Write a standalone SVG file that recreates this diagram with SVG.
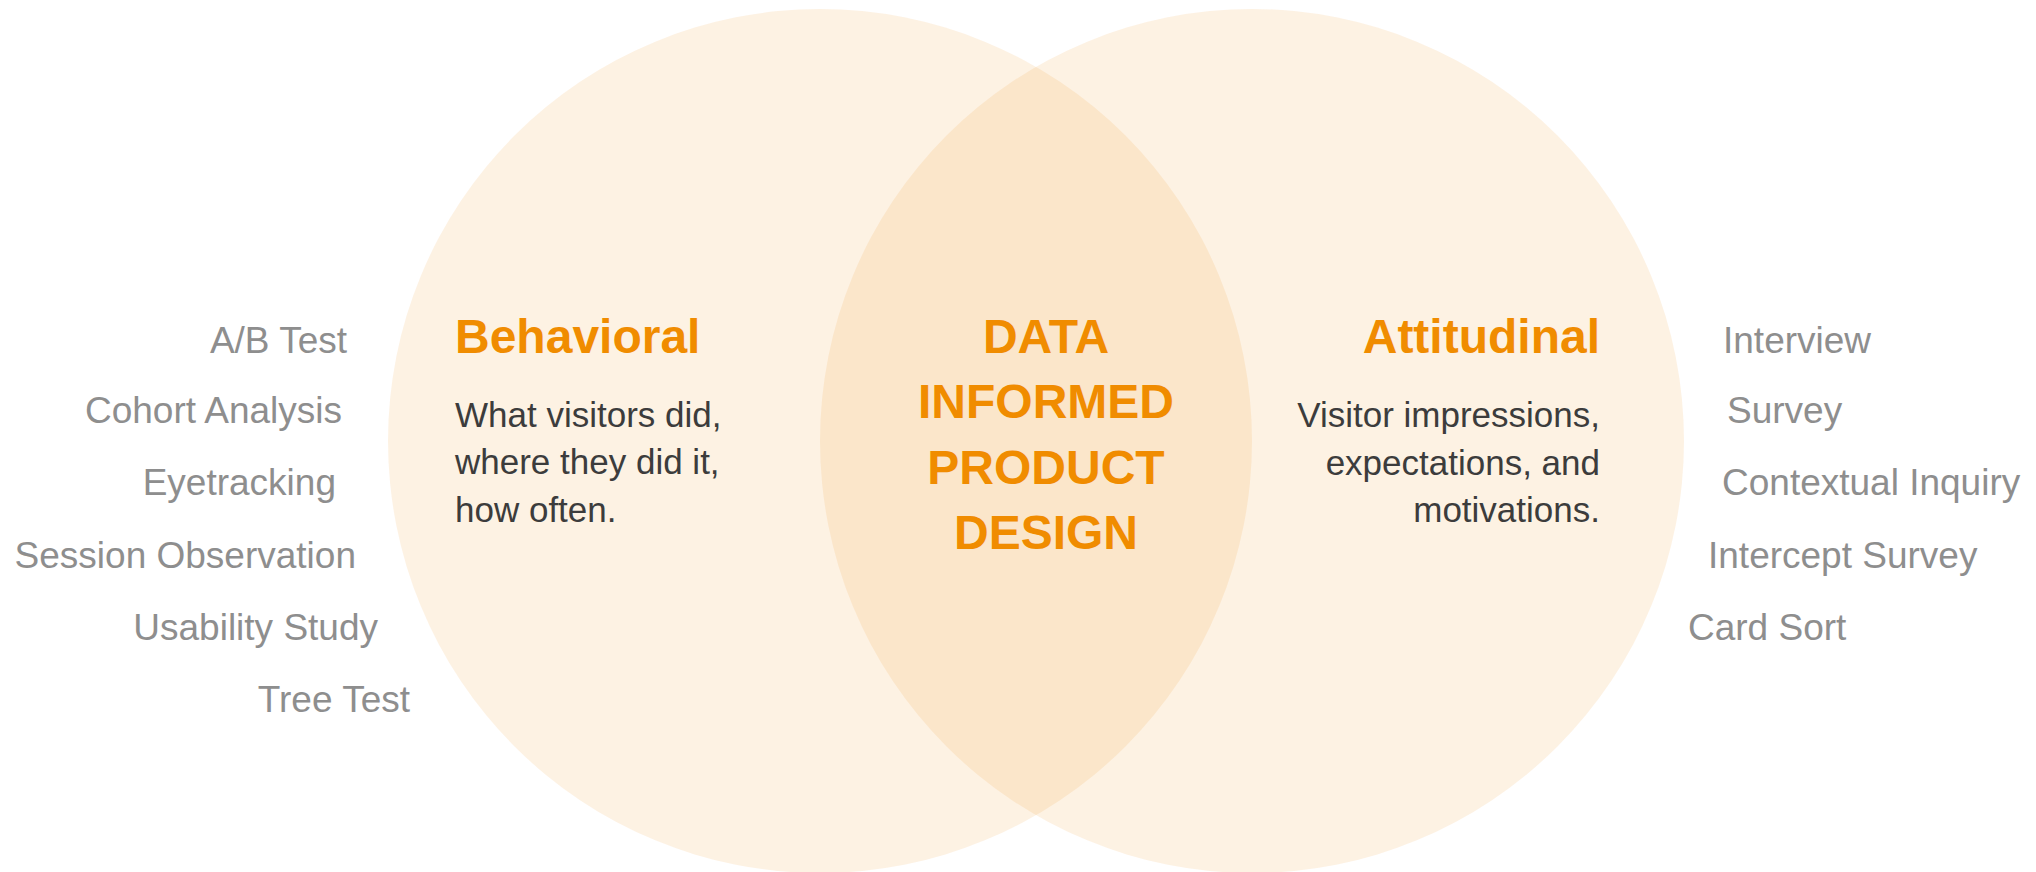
<svg xmlns="http://www.w3.org/2000/svg" width="2036" height="872" viewBox="0 0 2036 872">
<style>
.circ{fill:#F08C00;fill-opacity:0.11}
.item{font-family:"Liberation Sans",Arial,sans-serif;font-size:37px;fill:#8E8E8E}
.head{font-family:"Liberation Sans",Arial,sans-serif;font-size:48px;font-weight:bold;fill:#F08C00}
.body{font-family:"Liberation Sans",Arial,sans-serif;font-size:35px;fill:#3C3C3C}
</style>
<rect width="2036" height="872" fill="#FFFFFF"/>
<g id="behavioral-circle">
<circle class="circ" cx="820" cy="441" r="432"/>
</g>
<g id="attitudinal-circle">
<circle class="circ" cx="1252" cy="441" r="432"/>
</g>
<g id="connectors"></g>
<g id="behavioral-label">
<text class="head" x="455" y="353">Behavioral</text>
<text class="body" x="455" y="427">What visitors did,</text>
<text class="body" x="455" y="474">where they did it,</text>
<text class="body" x="455" y="522">how often.</text>
</g>
<g id="center-label">
<text class="head" text-anchor="middle" x="1046" y="353">DATA</text>
<text class="head" text-anchor="middle" x="1046" y="418">INFORMED</text>
<text class="head" text-anchor="middle" x="1046" y="484">PRODUCT</text>
<text class="head" text-anchor="middle" x="1046" y="549">DESIGN</text>
</g>
<g id="attitudinal-label">
<text class="head" text-anchor="end" x="1600" y="353">Attitudinal</text>
<text class="body" text-anchor="end" x="1600" y="427">Visitor impressions,</text>
<text class="body" text-anchor="end" x="1600" y="475">expectations, and</text>
<text class="body" text-anchor="end" x="1600" y="522">motivations.</text>
</g>
<g id="behavioral-methods">
<text class="item" text-anchor="end" x="347" y="353">A/B Test</text>
<text class="item" text-anchor="end" x="342" y="423">Cohort Analysis</text>
<text class="item" text-anchor="end" x="336" y="495">Eyetracking</text>
<text class="item" text-anchor="end" x="356" y="568">Session Observation</text>
<text class="item" text-anchor="end" x="378" y="640">Usability Study</text>
<text class="item" text-anchor="end" x="410" y="712">Tree Test</text>
</g>
<g id="attitudinal-methods">
<text class="item" x="1723" y="353">Interview</text>
<text class="item" x="1727" y="423">Survey</text>
<text class="item" x="1722" y="495">Contextual Inquiry</text>
<text class="item" x="1708" y="568">Intercept Survey</text>
<text class="item" x="1688" y="640">Card Sort</text>
</g>
</svg>
